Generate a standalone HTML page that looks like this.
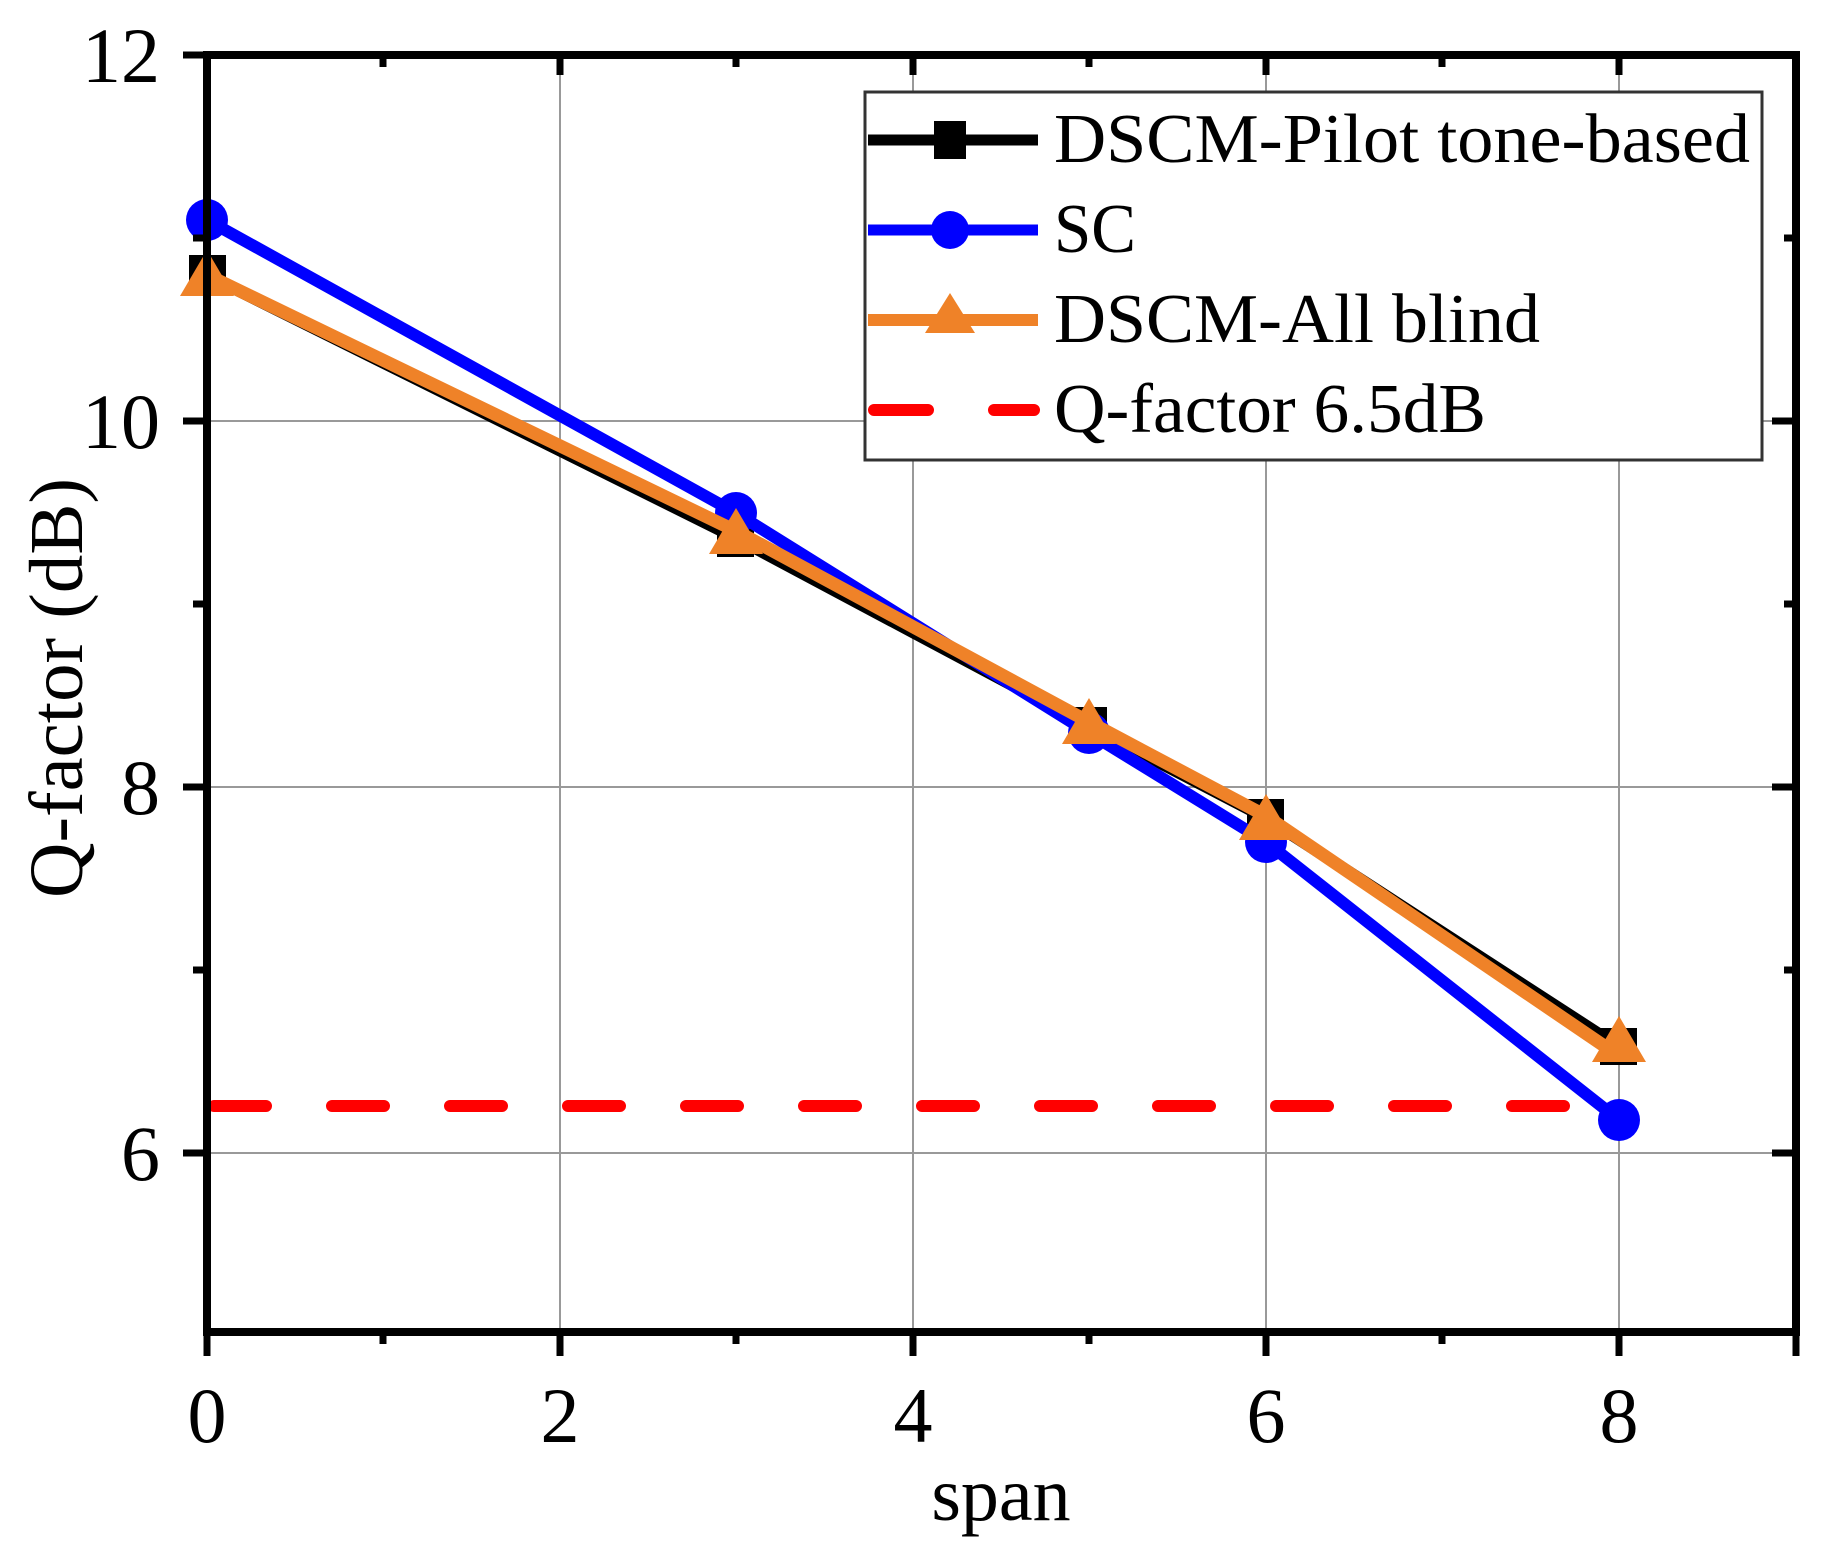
<!DOCTYPE html>
<html><head><meta charset="utf-8"><style>html,body{margin:0;padding:0;background:#fff}svg{display:block}</style></head>
<body>
<svg width="1826" height="1553" viewBox="0 0 1826 1553" xmlns="http://www.w3.org/2000/svg" font-family="'Liberation Serif', serif">
<g stroke="#999" stroke-width="2">
<line x1="560" y1="55" x2="560" y2="1332"/>
<line x1="913" y1="55" x2="913" y2="1332"/>
<line x1="1266" y1="55" x2="1266" y2="1332"/>
<line x1="1619" y1="55" x2="1619" y2="1332"/>
<line x1="207" y1="421" x2="1796" y2="421"/>
<line x1="207" y1="787" x2="1796" y2="787"/>
<line x1="207" y1="1153" x2="1796" y2="1153"/>
</g>
<line x1="214" y1="1106" x2="1600" y2="1106" stroke="#ff0000" stroke-width="12" stroke-linecap="round" stroke-dasharray="52 66"/>
<polyline points="207,275 736,538 1089,726 1266,818 1619,1047" fill="none" stroke="#000" stroke-width="12"/>
<g fill="#000">
<rect x="189" y="255" width="37" height="37"/><rect x="717" y="520" width="37" height="37"/>
<rect x="1070" y="707" width="37" height="37"/><rect x="1247" y="799" width="37" height="37"/>
<rect x="1600" y="1028" width="37" height="37"/>
</g>
<polyline points="207,220 736,513 1089,733 1266,842 1619,1120" fill="none" stroke="#0000ff" stroke-width="12"/>
<g fill="#0000ff">
<circle cx="207" cy="220" r="21"/><circle cx="736" cy="513" r="21"/><circle cx="1089" cy="733" r="21"/>
<circle cx="1266" cy="842" r="21"/><circle cx="1619" cy="1120" r="21"/>
</g>
<polyline points="207,275 736,531 1089,722 1266,816 1619,1056" fill="none" stroke="#ef8228" stroke-width="13"/>
<g fill="#ef8228">
<polygon points="207,250 234,296 180,296"/><polygon points="736,508 763,554 709,554"/>
<polygon points="1089,698 1116,744 1062,744"/><polygon points="1266,794 1293,840 1239,840"/>
<polygon points="1619,1016 1646,1062 1592,1062"/>
</g>
<rect x="207" y="55" width="1589" height="1277" fill="none" stroke="#000" stroke-width="8"/>
<g stroke="#000" stroke-width="7">
<line x1="207" y1="1332" x2="207" y2="1356"/><line x1="560" y1="1332" x2="560" y2="1356"/>
<line x1="913" y1="1332" x2="913" y2="1356"/><line x1="1266" y1="1332" x2="1266" y2="1356"/>
<line x1="1619" y1="1332" x2="1619" y2="1356"/><line x1="1796" y1="1332" x2="1796" y2="1356"/>
<line x1="383" y1="1332" x2="383" y2="1344"/><line x1="736" y1="1332" x2="736" y2="1344"/>
<line x1="1089" y1="1332" x2="1089" y2="1344"/><line x1="1442" y1="1332" x2="1442" y2="1344"/>
<line x1="383" y1="55" x2="383" y2="67"/><line x1="560" y1="55" x2="560" y2="75"/>
<line x1="736" y1="55" x2="736" y2="67"/><line x1="913" y1="55" x2="913" y2="75"/>
<line x1="1089" y1="55" x2="1089" y2="67"/><line x1="1266" y1="55" x2="1266" y2="75"/>
<line x1="1442" y1="55" x2="1442" y2="67"/><line x1="1619" y1="55" x2="1619" y2="75"/>
<line x1="183" y1="55" x2="207" y2="55"/><line x1="183" y1="421" x2="207" y2="421"/>
<line x1="183" y1="787" x2="207" y2="787"/><line x1="183" y1="1153" x2="207" y2="1153"/>
<line x1="193" y1="238" x2="207" y2="238"/><line x1="193" y1="604" x2="207" y2="604"/>
<line x1="193" y1="970" x2="207" y2="970"/>
<line x1="1772" y1="421" x2="1796" y2="421"/><line x1="1772" y1="787" x2="1796" y2="787"/>
<line x1="1772" y1="1153" x2="1796" y2="1153"/>
<line x1="1784" y1="238" x2="1796" y2="238"/><line x1="1784" y1="604" x2="1796" y2="604"/>
<line x1="1784" y1="970" x2="1796" y2="970"/>
</g>
<g font-size="78" fill="#000" text-anchor="end">
<text x="160" y="82">12</text>
<text x="160" y="448">10</text>
<text x="160" y="814">8</text>
<text x="160" y="1180">6</text>
</g>
<g font-size="78" fill="#000" text-anchor="middle">
<text x="207" y="1442">0</text>
<text x="560" y="1442">2</text>
<text x="913" y="1442">4</text>
<text x="1266" y="1442">6</text>
<text x="1619" y="1442">8</text>
</g>
<text x="1001" y="1520" font-size="76" text-anchor="middle">span</text>
<text transform="translate(82,688) rotate(-90)" font-size="76" text-anchor="middle" textLength="420" lengthAdjust="spacingAndGlyphs">Q-factor (dB)</text>
<rect x="865" y="92" width="897" height="368" fill="#fff" stroke="#333" stroke-width="3"/>
<line x1="868" y1="140" x2="1038" y2="140" stroke="#000" stroke-width="11"/>
<rect x="934" y="121" width="32" height="38" fill="#000"/>
<line x1="868" y1="230" x2="1038" y2="230" stroke="#0000ff" stroke-width="11"/>
<circle cx="950" cy="230" r="19" fill="#0000ff"/>
<line x1="868" y1="320" x2="1038" y2="320" stroke="#ef8228" stroke-width="12"/>
<polygon points="950,293 975,333 925,333" fill="#ef8228"/>
<line x1="874" y1="410" x2="1034" y2="410" stroke="#ff0000" stroke-width="12" stroke-linecap="round" stroke-dasharray="54 66"/>
<g font-size="70" fill="#000">
<text x="1054" y="162" textLength="696" lengthAdjust="spacingAndGlyphs">DSCM-Pilot tone-based</text>
<text x="1054" y="252" textLength="82" lengthAdjust="spacingAndGlyphs">SC</text>
<text x="1054" y="342" textLength="486" lengthAdjust="spacingAndGlyphs">DSCM-All blind</text>
<text x="1054" y="432" textLength="432" lengthAdjust="spacingAndGlyphs">Q-factor 6.5dB</text>
</g>
</svg>
</body></html>
